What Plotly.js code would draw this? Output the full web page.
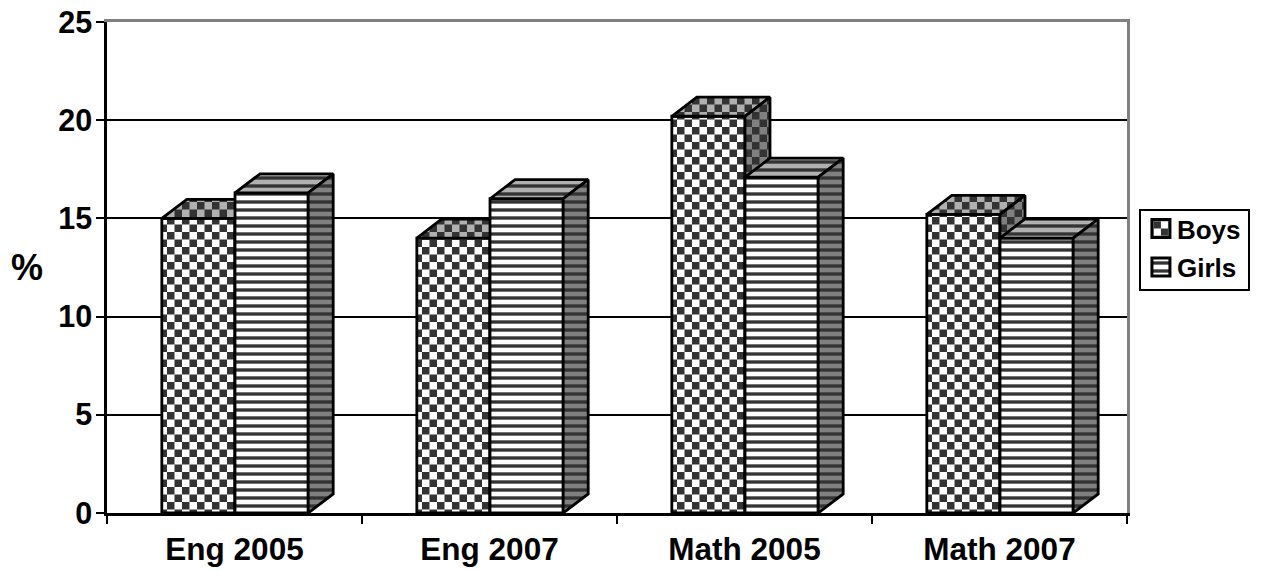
<!DOCTYPE html>
<html>
<head>
<meta charset="utf-8">
<script src="https://cdn.plot.ly/plotly-3.0.1.min.js"></script>
<style>html,body{margin:0;padding:0;background:#fff;overflow:hidden}</style>
</head>
<body>
<div id="chart" style="width:1261px;height:571px"></div>
<script>
// Test-score percentages by subject and year
const categories = ['Eng 2005', 'Eng 2007', 'Math 2005', 'Math 2007'];
const categoryPositions = [0, 1, 2, 3];
const categoryEdges = [-0.5, 0.5, 1.5, 2.5, 3.5];
const boys = [15, 14, 20.2, 15.2];
const girls = [16.3, 16, 17.1, 14];

// Bar geometry in axis units
const barWidth = 0.287;
const boysOffset = -0.285;
const girlsOffset = 0.002;
const depthX = 0.098;
const depthY = 0.97;

const ink = '#000000';
const patternInk = '#333333';
const edge = {color: ink, width: 2.8};
const checkerSize = 15;
const stripeSize = 8;
const FONT = 'Liberation Sans, Arial, sans-serif';

const checker = bg => ({shape: '+', size: checkerSize, solidity: 0.5, bgcolor: bg, fgcolor: patternInk, fillmode: 'replace'});
const stripes = bg => ({shape: '-', size: stripeSize, solidity: 0.42, bgcolor: bg, fgcolor: patternInk, fillmode: 'replace'});

// Front faces are ordinary bars
function front(name, values, offset, pattern, xa, ya) {
  return {type: 'bar', name, x: categoryPositions, y: values, width: barWidth, offset,
    marker: {color: '#ffffff', line: edge, pattern},
    xaxis: xa, yaxis: ya, hoverinfo: 'y'};
}

// Top and side faces are polygons derived from each bar's value
function topFace(values, offset, pattern, xa, ya) {
  const xs = [], ys = [];
  values.forEach((v, i) => {
    const l = categoryPositions[i] + offset, r = l + barWidth;
    xs.push(l, r, r + depthX, l + depthX, l, null);
    ys.push(v, v, v + depthY, v + depthY, v, null);
  });
  return face(xs, ys, pattern, xa, ya);
}
function sideFace(values, offset, pattern, xa, ya) {
  const xs = [], ys = [];
  values.forEach((v, i) => {
    const r = categoryPositions[i] + offset + barWidth;
    xs.push(r, r + depthX, r + depthX, r, r, null);
    ys.push(0, depthY, v + depthY, v, 0, null);
  });
  return face(xs, ys, pattern, xa, ya);
}
function face(x, y, fillpattern, xa, ya) {
  return {type: 'scatter', mode: 'lines', x, y, fill: 'toself', fillcolor: '#ffffff', fillpattern,
    line: edge, xaxis: xa, yaxis: ya, showlegend: false, hoverinfo: 'skip'};
}

const data = [
  front('Boys', boys, boysOffset, checker('#ffffff'), 'x', 'y'),
  topFace(boys, boysOffset, checker('#b0b0b0'), 'x', 'y'),
  sideFace(boys, boysOffset, checker('#808080'), 'x', 'y'),
  front('Girls', girls, girlsOffset, stripes('#ffffff'), 'x2', 'y2'),
  topFace(girls, girlsOffset, stripes('#b0b0b0'), 'x2', 'y2'),
  sideFace(girls, girlsOffset, stripes('#808080'), 'x2', 'y2')
];

const xRange = [-0.5, 3.5];
const yRange = [0, 25];

const layout = {
  width: 1261, height: 571,
  margin: {l: 107, r: 134, t: 22, b: 58, pad: 0},
  paper_bgcolor: '#ffffff', plot_bgcolor: '#ffffff',
  barmode: 'overlay',
  showlegend: true,
  legend: {xref: 'container', yref: 'container', x: 0.9032, xanchor: 'left', y: 0.634, yanchor: 'top', bgcolor: '#ffffff',
    bordercolor: ink, borderwidth: 2.5, font: {family: FONT, size: 26, weight: 700, color: ink},
    itemwidth: 30, tracegroupgap: 0},
  // The upright unit label sits beside the value axis
  annotations: [{text: '%', xref: 'paper', yref: 'paper', x: -0.0789, y: 0.5, xanchor: 'center', yanchor: 'middle',
    showarrow: false, font: {family: FONT, size: 36, weight: 700, color: ink}}],
  xaxis: {range: xRange, tickmode: 'array', tickvals: categoryPositions, ticktext: categories,
    ticks: '', tickfont: {family: FONT, size: 31.5, weight: 700, color: ink}, ticklabelstandoff: 6,
    showgrid: false, zeroline: false, showline: true, linecolor: ink, linewidth: 2.5,
    minor: {tickmode: 'array', tickvals: categoryEdges, ticks: 'outside', ticklen: 8, tickwidth: 2, tickcolor: ink, showgrid: false}},
  yaxis: {range: yRange, tickmode: 'array', tickvals: [0, 5, 10, 15, 20, 25], ticks: 'outside', ticklen: 8, tickwidth: 2,
    tickcolor: ink, tickfont: {family: FONT, size: 30.5, weight: 700, color: ink}, ticklabelstandoff: -2,
    showgrid: true, gridcolor: ink, gridwidth: 2, zeroline: false, showline: true, linecolor: ink, linewidth: 2.5},
  xaxis2: {range: xRange, overlaying: 'x', anchor: 'y2', side: 'top', showgrid: false, zeroline: false,
    showticklabels: false, ticks: '', showline: true, linecolor: '#808080', linewidth: 3},
  yaxis2: {range: yRange, overlaying: 'y', anchor: 'x2', side: 'right', showgrid: false, zeroline: false,
    showticklabels: false, ticks: '', showline: true, linecolor: '#808080', linewidth: 3}
};

// Plotly has no checkerboard pattern, so the tile contents are swapped after drawing
function applyCheckerTiles(root) {
  const NS = 'http://www.w3.org/2000/svg';
  root.querySelectorAll('pattern').forEach(p => {
    if (parseFloat(p.getAttribute('width')) !== checkerSize) return;
    const first = p.firstElementChild;
    while (first.nextElementSibling) first.nextElementSibling.remove();
    [[0, 0], [checkerSize / 2, checkerSize / 2]].forEach(([x, y]) => {
      const r = document.createElementNS(NS, 'rect');
      r.setAttribute('x', x); r.setAttribute('y', y);
      r.setAttribute('width', checkerSize / 2); r.setAttribute('height', checkerSize / 2);
      r.setAttribute('fill', patternInk);
      p.appendChild(r);
    });
  });
}

// Larger swatches and wider row spacing than the legend's defaults
function tuneLegend(root) {
  const box = root.querySelector('.legend');
  if (!box) return;
  const bg = box.querySelector('.bg');
  bg.setAttribute('width', 109); bg.setAttribute('height', 80);
  box.querySelector('.scrollbox').removeAttribute('clip-path');
  const barPaths = [...root.querySelectorAll('.barlayer .trace')].map(t => t.querySelector('.point path'));
  box.querySelectorAll('.traces').forEach((tr, i) => {
    tr.setAttribute('transform', 'translate(0,' + (19.5 + i * 38.5) + ')');
    tr.querySelectorAll('.legendpoints path, .legendsymbols path').forEach(s => {
      s.setAttribute('d', 'M9,9H-9V-9H9Z');
      s.setAttribute('transform', 'translate(22,0)');
      s.style.strokeWidth = '3px';
      if (barPaths[i]) s.style.fill = barPaths[i].style.fill;
    });
    const txt = tr.querySelector('.legendtext');
    if (txt) txt.setAttribute('x', 38);
  });
}

const el = document.getElementById('chart');
Plotly.newPlot(el, data, layout, {displayModeBar: false, responsive: false}).then(() => {
  applyCheckerTiles(el);
  tuneLegend(el);
});
</script>
</body>
</html>
